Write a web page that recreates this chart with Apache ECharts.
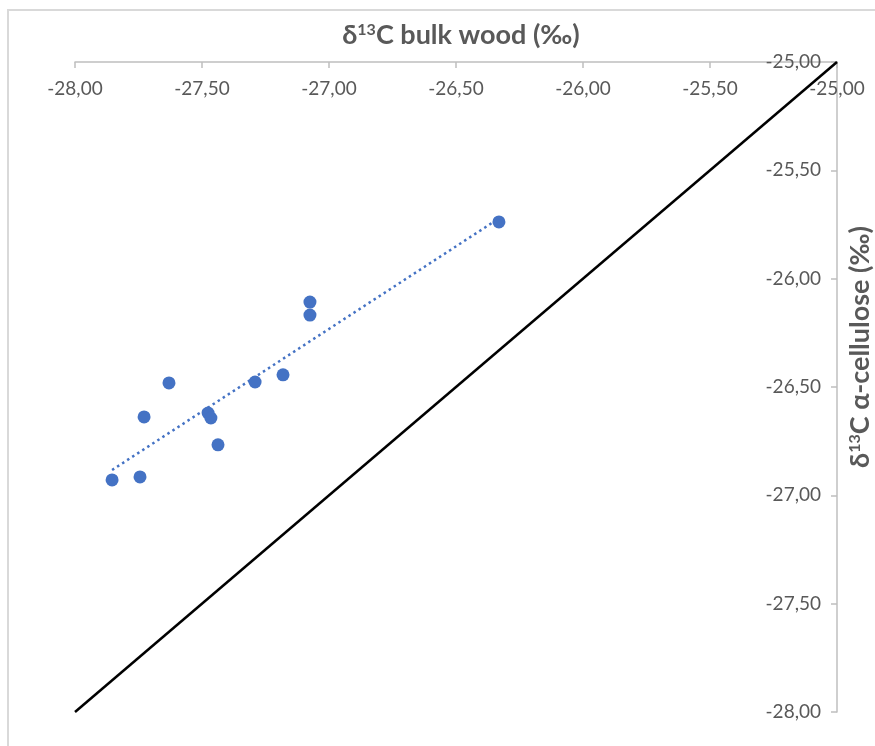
<!DOCTYPE html>
<html>
<head>
<meta charset="utf-8">
<script src="https://cdn.jsdelivr.net/npm/echarts@6/dist/echarts.min.js"></script>
<style>html,body{margin:0;padding:0;background:#fff;overflow:hidden;}#c{width:875px;height:746px;}</style>
</head>
<body>
<div id="c"></div>
<script>
const bulkWood = [-27.854, -27.744, -27.728, -27.630, -27.476, -27.465, -27.437, -27.291, -27.181, -27.075, -27.075, -26.331];
const alphaCellulose = [-26.929, -26.915, -26.638, -26.481, -26.620, -26.643, -26.767, -26.477, -26.444, -26.108, -26.168, -25.738];
const trendX = [-27.854, -26.331];
const trendY = [-26.883, -25.722];
const oneToOneX = [-28, -25];
const oneToOneY = [-28, -25];
const axisMin = -28, axisMax = -25, axisStep = 0.5;

const fmt = v => v.toFixed(2).replace('.', ',');
const FONT = 'Lato';
const GREY = '#595959';

const richName = {
  a: { fontFamily: FONT, fontSize: 27, fontWeight: 'bold', color: GREY },
  s: { fontFamily: FONT, fontSize: 16, fontWeight: 'bold', color: GREY, verticalAlign: 'top', padding: [0, 0, 11, 0] }
};

const chart = echarts.init(document.getElementById('c'));
chart.setOption({
  animation: false,
  backgroundColor: '#fff',
  textStyle: { fontFamily: FONT },
  graphic: [{
    type: 'rect', shape: { x: 8, y: 10, width: 900, height: 800 },
    style: { fill: 'none', stroke: '#d9d9d9', lineWidth: 2 }, z: -10
  }],
  title: {
    text: '{a|δ}{s|13}{a|C bulk wood (‰)}',
    left: 456, textAlign: 'center', top: 17,
    textStyle: { rich: richName }
  },
  grid: { left: 75, right: 38, top: 62, bottom: 34, containLabel: false, outerBoundsMode: 'none' },
  xAxis: {
    type: 'value', position: 'top', min: axisMin, max: axisMax, interval: axisStep,
    axisLine: { show: true, onZero: false, lineStyle: { color: '#bfbfbf', width: 1.5 } },
    axisTick: { show: true, inside: true, length: 6, lineStyle: { color: '#bfbfbf', width: 1.5 } },
    axisLabel: { inside: true, margin: 17, color: GREY, fontSize: 19, fontFamily: FONT, formatter: fmt, showMinLabel: true, showMaxLabel: true },
    splitLine: { show: false }
  },
  yAxis: {
    type: 'value', position: 'right', min: axisMin, max: axisMax, interval: axisStep,
    name: '{a|δ}{s|13}{a|C α-cellulose (‰)}',
    nameLocation: 'middle', nameRotate: 90, nameGap: 10,
    nameTextStyle: { rich: richName, padding: [0, 0, 0, 80] },
    axisLine: { show: true, onZero: false, lineStyle: { color: '#bfbfbf', width: 1.5 } },
    axisTick: { show: true, inside: true, length: 6, lineStyle: { color: '#bfbfbf', width: 1.5 } },
    axisLabel: { inside: true, margin: 16, color: GREY, fontSize: 19, fontFamily: FONT, formatter: fmt, showMinLabel: true, showMaxLabel: true },
    splitLine: { show: false }
  },
  series: [
    {
      type: 'line', data: oneToOneX.map((x, i) => [x, oneToOneY[i]]),
      symbol: 'none', lineStyle: { color: '#000', width: 2.5 }, z: 2, silent: true
    },
    {
      type: 'line', data: trendX.map((x, i) => [x, trendY[i]]),
      symbol: 'none', lineStyle: { color: '#4472C4', width: 2.5, type: [2.5, 3.5] }, z: 3, silent: true
    },
    {
      type: 'scatter', data: bulkWood.map((x, i) => [x, alphaCellulose[i]]),
      symbol: 'circle', symbolSize: 13, itemStyle: { color: '#4472C4', opacity: 1 }, z: 4
    }
  ]
});
</script>
</body>
</html>
